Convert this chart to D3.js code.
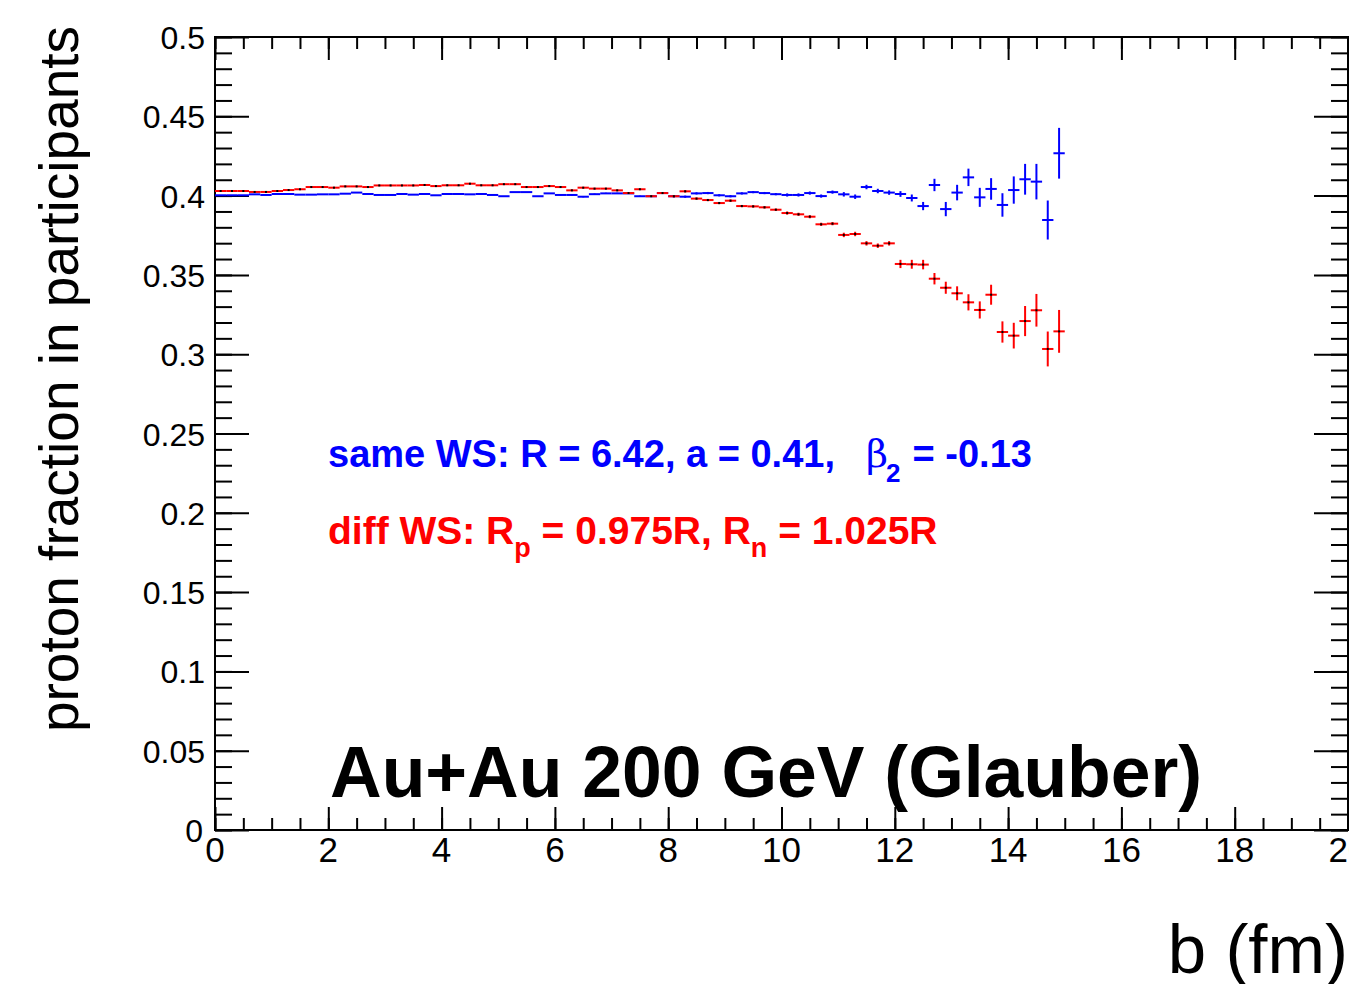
<!DOCTYPE html>
<html>
<head>
<meta charset="utf-8">
<script src="https://cdn.jsdelivr.net/npm/d3@7"></script>
<style>
html,body{margin:0;padding:0;background:#fff;}
svg{display:block;}
text{font-family:"Liberation Sans",Arial,Helvetica,sans-serif;}
</style>
</head>
<body>
<svg id="chart" width="1349" height="984"></svg>
<script>
// ---- data ----
const bCenters = [0.1,0.3,0.5,0.7,0.9,1.1,1.3,1.5,1.7,1.9,2.1,2.3,2.5,2.7,2.9,3.1,3.3,3.5,3.7,3.9,
  4.1,4.3,4.5,4.7,4.9,5.1,5.3,5.5,5.7,5.9,6.1,6.3,6.5,6.7,6.9,7.1,7.3,7.5,7.7,7.9,
  8.1,8.3,8.5,8.7,8.9,9.1,9.3,9.5,9.7,9.9,10.1,10.3,10.5,10.7,10.9,11.1,11.3,11.5,11.7,11.9,
  12.1,12.3,12.5,12.7,12.9,13.1,13.3,13.5,13.7,13.9,14.1,14.3,14.5,14.7,14.9];
const binHalfWidth = 0.1;

const sameWS = [0.4002,0.4002,0.4002,0.4008,0.4004,0.4010,0.4010,0.4006,0.4006,0.4008,
  0.4008,0.4012,0.4019,0.4010,0.4004,0.4004,0.4010,0.4006,0.4010,0.4002,
  0.4010,0.4010,0.4008,0.4010,0.4004,0.3996,0.4022,0.4022,0.3996,0.4014,
  0.4004,0.4004,0.3993,0.4009,0.4014,0.4014,0.4014,0.3996,0.3996,0.4016,
  0.3996,0.3993,0.4014,0.4016,0.4002,0.3996,0.4014,0.4022,0.4016,0.4009,
  0.4004,0.4004,0.4016,0.3997,0.4022,0.4008,0.3993,0.4054,0.4029,0.4019,
  0.4010,0.3985,0.3934,0.4067,0.3915,0.4019,0.4115,0.3989,0.4042,0.3941,
  0.4035,0.4103,0.4088,0.3846,0.4267];
const sameWSErr = [0.0002,0.0002,0.0002,0.0002,0.0002,0.0002,0.0002,0.0002,0.0002,0.0002,
  0.0002,0.0002,0.0002,0.0002,0.0002,0.0002,0.0002,0.0002,0.0002,0.0002,
  0.0002,0.0002,0.0002,0.0002,0.0002,0.0002,0.0002,0.0002,0.0002,0.0002,
  0.0004,0.0004,0.0004,0.0004,0.0004,0.0004,0.0004,0.0004,0.0004,0.0004,
  0.0007,0.0007,0.0007,0.0007,0.0007,0.0007,0.0007,0.0007,0.0007,0.0007,
  0.0010,0.0010,0.0010,0.0010,0.0010,0.0014,0.0014,0.0014,0.0014,0.0014,
  0.0018,0.0022,0.0026,0.0039,0.0045,0.0049,0.0055,0.0060,0.0068,0.0074,
  0.0086,0.0097,0.0112,0.0123,0.0160];

const diffWS = [0.4029,0.4029,0.4029,0.4023,0.4023,0.4029,0.4035,0.4040,0.4054,0.4054,
  0.4050,0.4058,0.4058,0.4054,0.4064,0.4064,0.4064,0.4064,0.4067,0.4060,
  0.4065,0.4065,0.4075,0.4065,0.4065,0.4072,0.4072,0.4054,0.4054,0.4060,
  0.4054,0.4033,0.4050,0.4044,0.4044,0.4033,0.4016,0.4040,0.3996,0.4016,
  0.3996,0.4027,0.3981,0.3972,0.3953,0.3968,0.3934,0.3932,0.3926,0.3911,
  0.3890,0.3882,0.3867,0.3819,0.3823,0.3752,0.3758,0.3699,0.3684,0.3699,
  0.3569,0.3567,0.3565,0.3476,0.3419,0.3384,0.3327,0.3279,0.3375,0.3140,
  0.3117,0.3209,0.3277,0.3033,0.3144];
const diffWSErr = [0.0002,0.0002,0.0002,0.0002,0.0002,0.0002,0.0002,0.0002,0.0002,0.0002,
  0.0002,0.0002,0.0002,0.0002,0.0002,0.0002,0.0002,0.0002,0.0002,0.0002,
  0.0002,0.0002,0.0002,0.0002,0.0002,0.0002,0.0002,0.0002,0.0002,0.0002,
  0.0004,0.0004,0.0004,0.0004,0.0004,0.0004,0.0004,0.0004,0.0004,0.0004,
  0.0007,0.0007,0.0007,0.0007,0.0007,0.0007,0.0007,0.0007,0.0007,0.0007,
  0.0010,0.0010,0.0010,0.0010,0.0010,0.0014,0.0014,0.0014,0.0014,0.0014,
  0.0026,0.0028,0.0030,0.0036,0.0038,0.0044,0.0051,0.0054,0.0063,0.0067,
  0.0081,0.0095,0.0103,0.0110,0.0135];

const xTickValues = [0,2,4,6,8,10,12,14,16,18,20];
const xTickLabels = ["0","2","4","6","8","10","12","14","16","18","20"];
const yTickValues = [0,0.05,0.1,0.15,0.2,0.25,0.3,0.35,0.4,0.45,0.5];
const yTickLabels = ["0","0.05","0.1","0.15","0.2","0.25","0.3","0.35","0.4","0.45","0.5"];

// ---- layout ----
const svg = d3.select("#chart");
const W = 1349, H = 984;
const L = 215, R = 1348, T = 37, B = 830;
svg.append("rect").attr("width",W).attr("height",H).attr("fill","#fff");

const x = d3.scaleLinear().domain([0,20]).range([L,R]);
const y = d3.scaleLinear().domain([0,0.5]).range([B,T]);

// frame
svg.append("rect").attr("x",L).attr("y",T).attr("width",R-L).attr("height",B-T)
  .attr("fill","none").attr("stroke","#000").attr("stroke-width",2);

// axes (ticks inside)
const xMinor = d3.range(0,20.001,0.5);
const yMinor = d3.range(0,0.5001,0.01);
function drawAxis(g, axis){ g.call(axis); g.select(".domain").remove(); g.selectAll("line").attr("stroke","#000").attr("stroke-width",2); g.selectAll("text").remove(); }

drawAxis(svg.append("g").attr("transform",`translate(0,${B})`), d3.axisTop(x).tickValues(xMinor).tickSize(12));
drawAxis(svg.append("g").attr("transform",`translate(0,${B})`), d3.axisTop(x).tickValues(xTickValues).tickSize(23));
drawAxis(svg.append("g").attr("transform",`translate(0,${T})`), d3.axisBottom(x).tickValues(xMinor).tickSize(12));
drawAxis(svg.append("g").attr("transform",`translate(0,${T})`), d3.axisBottom(x).tickValues(xTickValues).tickSize(23));
drawAxis(svg.append("g").attr("transform",`translate(${L},0)`), d3.axisRight(y).tickValues(yMinor).tickSize(17));
drawAxis(svg.append("g").attr("transform",`translate(${L},0)`), d3.axisRight(y).tickValues(yTickValues).tickSize(34));
drawAxis(svg.append("g").attr("transform",`translate(${R},0)`), d3.axisLeft(y).tickValues(yMinor).tickSize(17));
drawAxis(svg.append("g").attr("transform",`translate(${R},0)`), d3.axisLeft(y).tickValues(yTickValues).tickSize(34));

// tick labels
svg.append("g").selectAll("text").data(xTickValues).join("text")
  .attr("x",d=>x(d)).attr("y",862).attr("text-anchor","middle")
  .attr("font-size",35).text((d,i)=>xTickLabels[i]);
svg.append("g").selectAll("text").data(yTickValues).join("text")
  .attr("x",d=> d===0 ? 203 : 205).attr("y",d=>y(d)+12).attr("text-anchor","end")
  .attr("font-size",32).text((d,i)=>yTickLabels[i]);

// axis titles
svg.append("text").attr("transform","translate(78,379) rotate(-90)")
  .attr("text-anchor","middle").attr("font-size",55).text("proton fraction in participants");
svg.append("text").attr("x",1348).attr("y",973).attr("text-anchor","end")
  .attr("font-size",69).text("b (fm)");

// data drawing
function drawSeries(vals, errs, color, marker){
  const g = svg.append("g").attr("stroke",color).attr("stroke-width",2).attr("fill","none");
  bCenters.forEach((b,i)=>{
    const cx = x(b), cy = y(vals[i]);
    g.append("line").attr("x1",x(b-binHalfWidth)).attr("x2",x(b+binHalfWidth)).attr("y1",cy).attr("y2",cy);
    const e = errs[i];
    if (y(vals[i]-e) - y(vals[i]+e) > 1) {
      g.append("line").attr("x1",cx).attr("x2",cx).attr("y1",y(vals[i]+e)).attr("y2",y(vals[i]-e));
    }
  });
  if (marker) {
    svg.append("g").selectAll("rect").data(bCenters).join("rect")
      .attr("x",d=>x(d)-1).attr("y",(d,i)=>y(vals[i])-1).attr("width",2).attr("height",2).attr("fill","#000");
  }
}
drawSeries(sameWS, sameWSErr, "#0000ff", false);
drawSeries(diffWS, diffWSErr, "#ff0000", true);

// annotations
const t1 = svg.append("text").attr("x",328).attr("y",467).attr("fill","#0000ff")
  .attr("font-size",38).attr("font-weight","bold");
t1.append("tspan").text("same WS: R = 6.42, a = 0.41,");
t1.append("tspan").attr("x",866).attr("font-weight","normal").attr("font-family","'DejaVu Serif',serif").text("β");
t1.append("tspan").attr("x",886).attr("font-size",26).attr("dy",15).text("2");
t1.append("tspan").attr("x",902).attr("dy",-15).text(" = -0.13");

const t2 = svg.append("text").attr("x",328).attr("y",544).attr("fill","#ff0000")
  .attr("font-size",39).attr("font-weight","bold");
t2.append("tspan").text("diff WS: R");
t2.append("tspan").attr("font-size",27).attr("dy",13).text("p");
t2.append("tspan").attr("dy",-13).text(" = 0.975R, R");
t2.append("tspan").attr("font-size",27).attr("dy",13).text("n");
t2.append("tspan").attr("dy",-13).text(" = 1.025R");

svg.append("text").attr("x",330).attr("y",797).attr("font-size",71.5).attr("font-weight","bold")
  .attr("fill","#000").text("Au+Au 200 GeV (Glauber)");
</script>
</body>
</html>
